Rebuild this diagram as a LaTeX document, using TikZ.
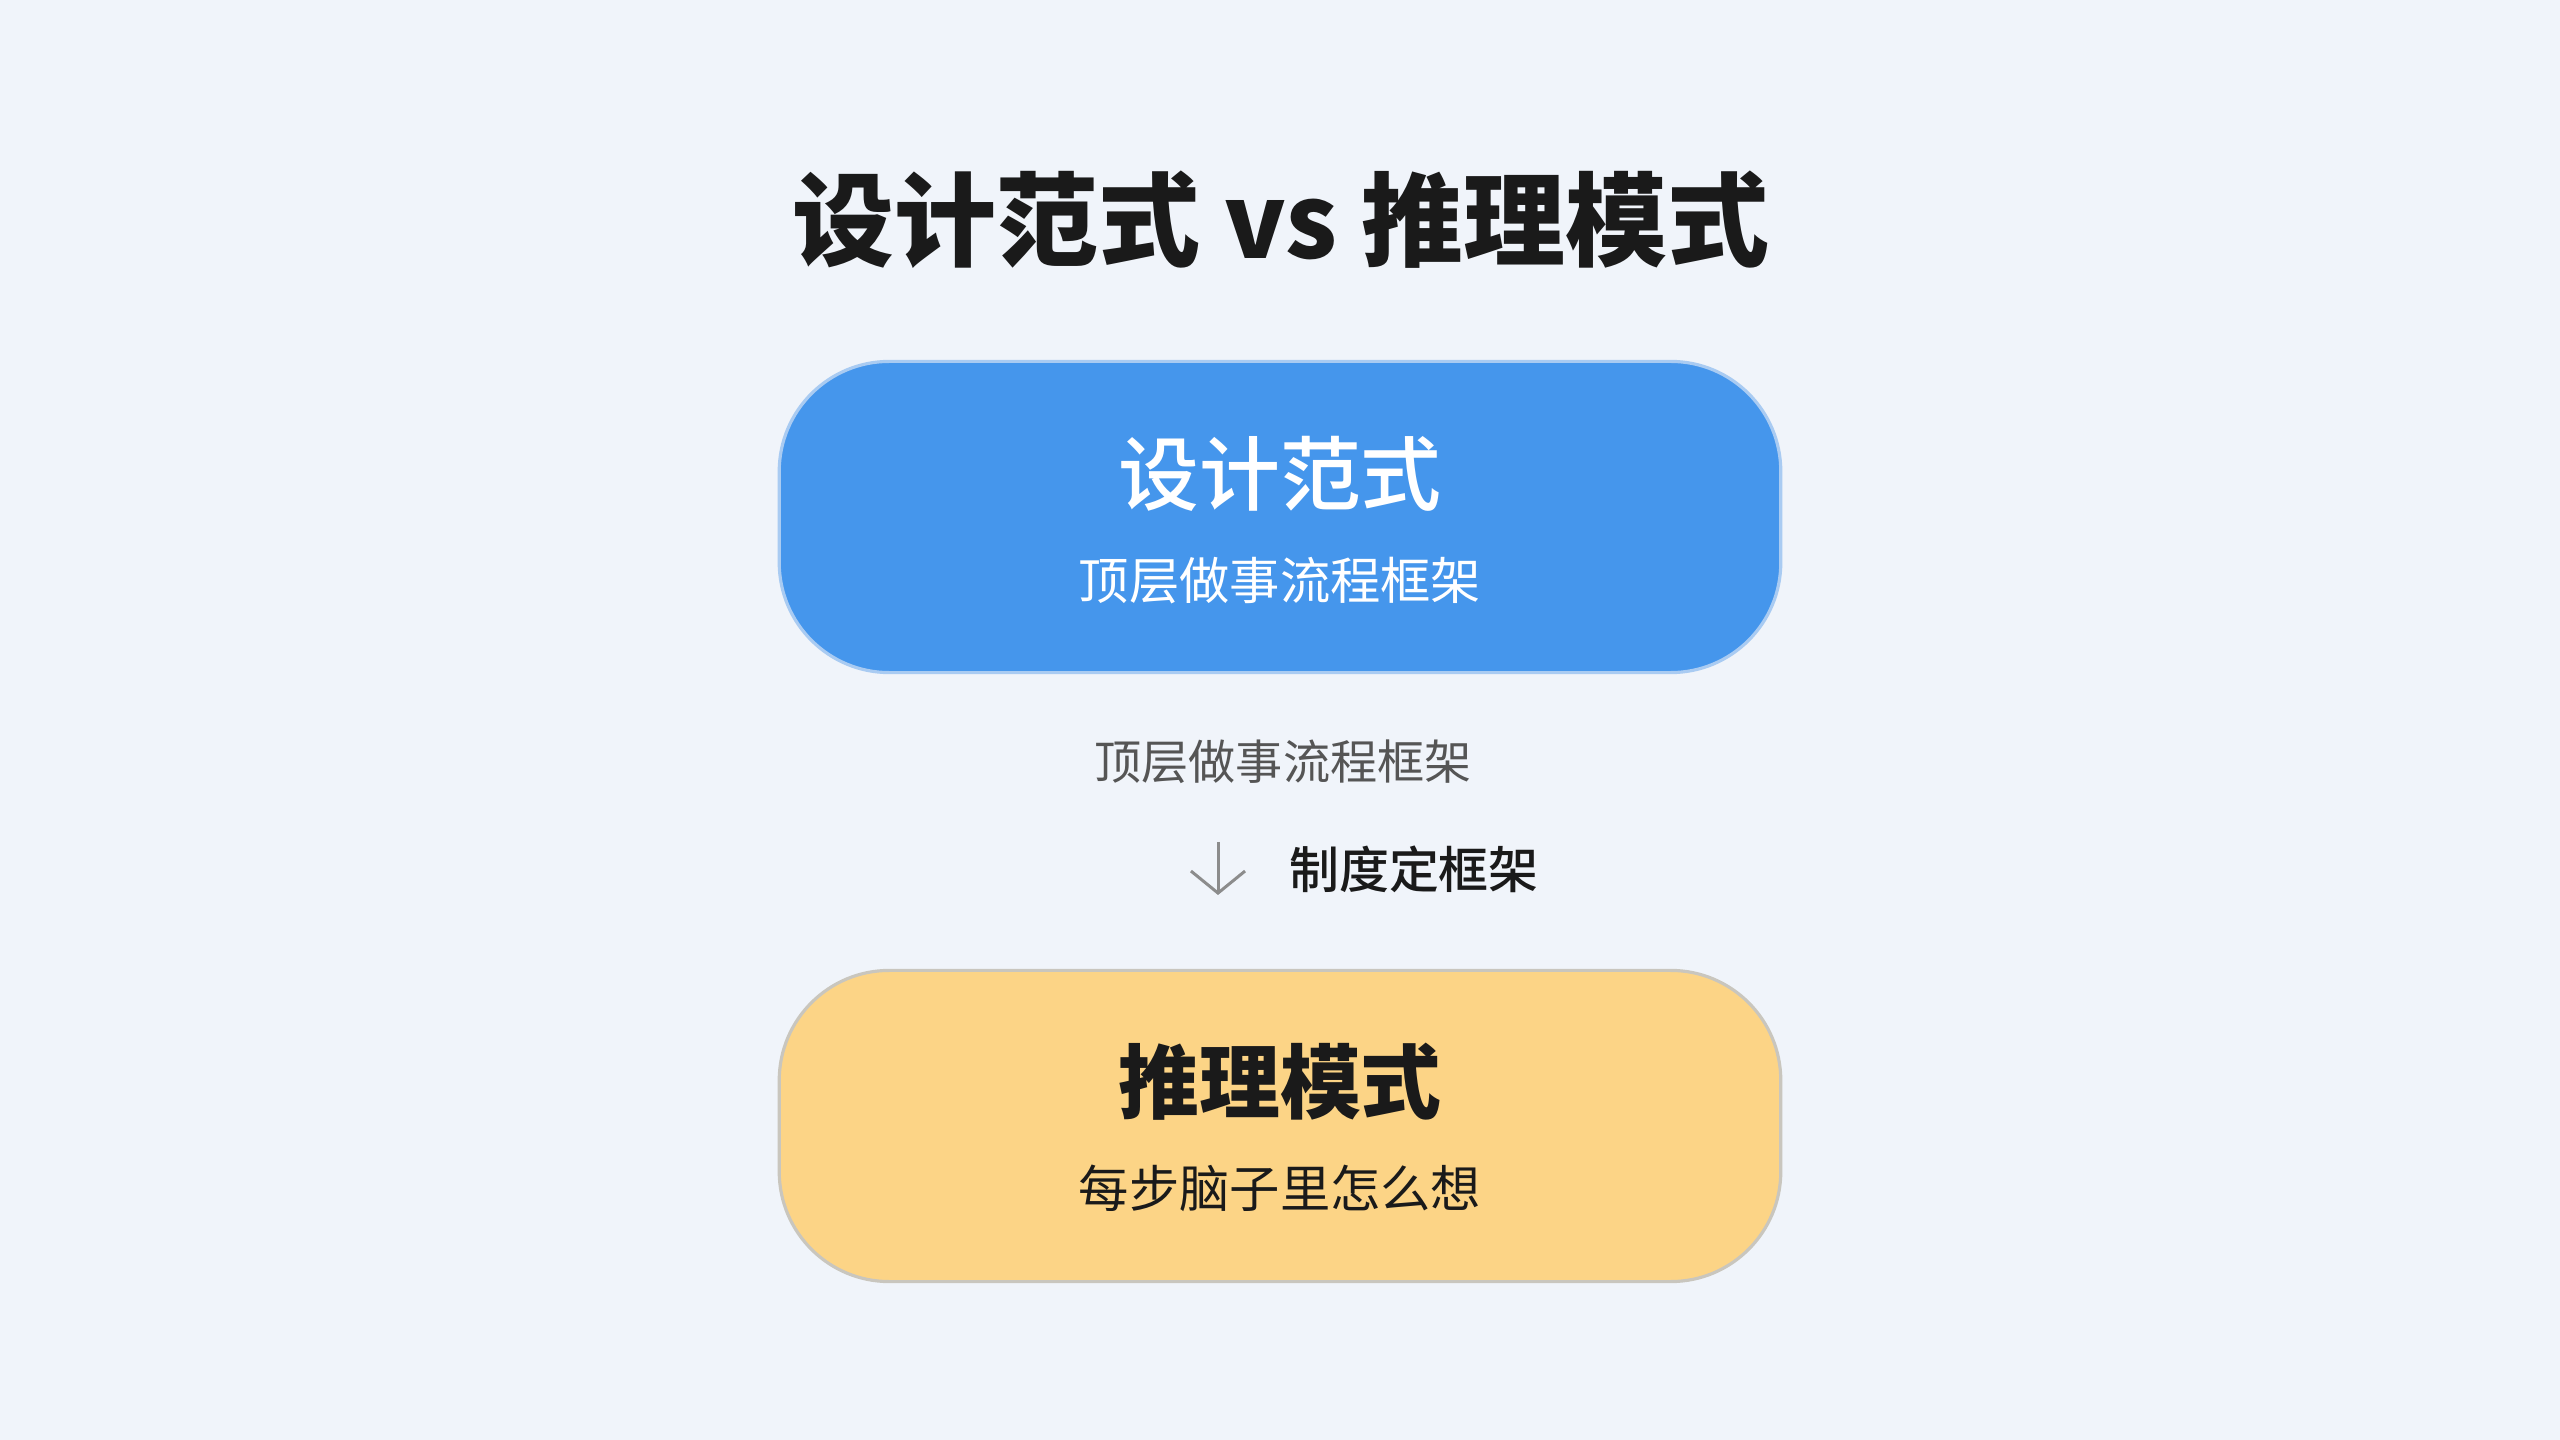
\documentclass[tikz,border=0pt]{standalone}
\usepackage{fontspec}
\usepackage{xcolor}
\usetikzlibrary{arrows.meta,positioning,calc}
\newfontfamily\cjk{Noto Sans CJK SC}
\newfontfamily\cjkmed{Noto Sans CJK SC Medium}
\definecolor{bgcol}{HTML}{F0F4FA}
\definecolor{bluebox}{HTML}{4596EC}
\definecolor{blueedge}{HTML}{A9CBF2}
\definecolor{yellowbox}{HTML}{FCD486}
\definecolor{yellowedge}{HTML}{C9C6BE}
\definecolor{inkdark}{HTML}{1A1A1A}
\definecolor{inkgray}{HTML}{555555}
\definecolor{arrowgray}{HTML}{8C8C8C}

\begin{document}
\begin{tikzpicture}[x=0.01cm,y=-0.01cm,
  pill/.style={rounded corners=1.1cm,minimum width=10.01cm,minimum height=3.11cm,line width=0.9pt,inner sep=0pt},
  headtxt/.style={font=\cjk\bfseries\fontsize{29pt}{34pt}\selectfont,text=inkdark},
  boxhead/.style={font=\cjkmed\fontsize{23pt}{28pt}\selectfont},
  boxheadbf/.style={font=\cjk\bfseries\fontsize{23pt}{28pt}\selectfont},
  boxsub/.style={font=\cjk\fontsize{14.3pt}{18pt}\selectfont}]
\fill[bgcol] (0,0) rectangle (2560,1440);
\useasboundingbox (0,0) rectangle (2560,1440);
\node (hd) at (1281,220)[headtxt] {设计范式 vs 推理模式};
\node (bp) at (1280,517)[pill,draw=blueedge,fill=bluebox] {};
\node (bpt) at (1280,474)[boxhead,text=white] {设计范式};
\node (bps) at (1280,581)[boxsub,text=white] {顶层做事流程框架};
\node (mid) at (1283,762)[font=\cjk\fontsize{13.4pt}{17pt}\selectfont,text=inkgray] {顶层做事流程框架};
\coordinate (at) at (1218,842);
\coordinate (ab) at (1218,895);
\node (lbl) at (1414,869)[font=\cjkmed\fontsize{14.2pt}{18pt}\selectfont,text=inkdark] {制度定框架};
\node (yp) at (1280,1126)[pill,draw=yellowedge,fill=yellowbox] {};
\node (ypt) at (1280,1082)[boxheadbf,text=inkdark] {推理模式};
\node (yps) at (1280,1188)[boxsub,text=inkdark] {每步脑子里怎么想};
\draw[-{Straight Barb[length=2.2mm,width=5.4mm]},arrowgray,line width=0.85pt] (at) -- (ab);
\end{tikzpicture}
\end{document}
